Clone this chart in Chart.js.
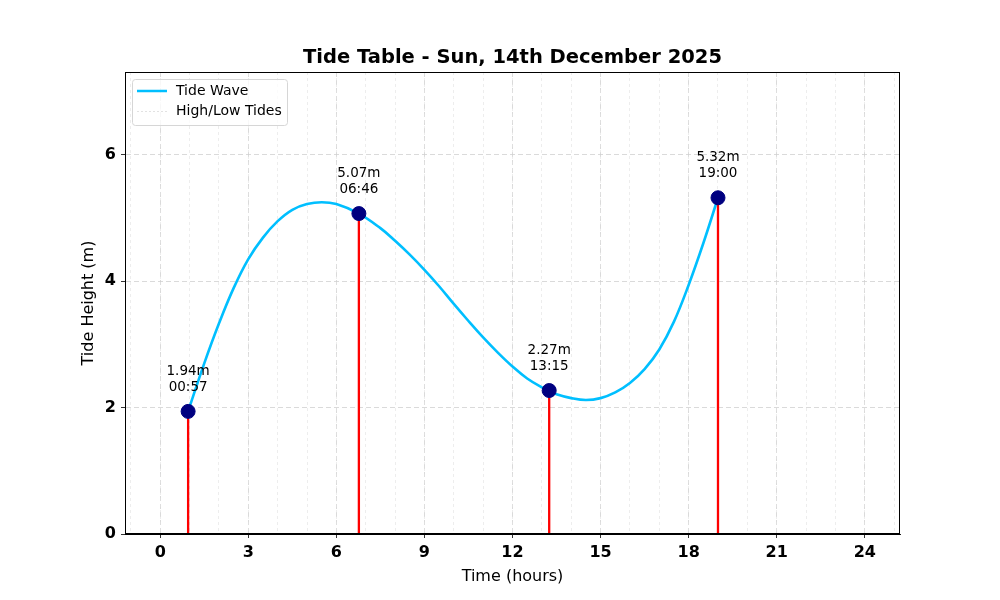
<!DOCTYPE html>
<html>
<head>
<meta charset="utf-8">
<script src="https://cdn.jsdelivr.net/npm/chart.js@4.4.1/dist/chart.umd.min.js"></script>
<style>
  html, body { margin: 0; padding: 0; background: #fff; }
  #wrap { width: 1000px; height: 600px; }
</style>
</head>
<body>
<div id="wrap"><canvas id="tide"></canvas></div>
<script>
// tide curve (hours, metres)
const waveHours = [0.95, 1.5, 2.0, 2.5, 3.0, 3.5, 4.0, 4.5, 5.0, 5.5, 6.0, 6.767, 7.5, 8.0, 8.5, 9.0, 9.5, 10.0, 10.5, 11.0, 11.5, 12.0, 12.5, 13.0, 13.25, 13.5, 14.0, 14.5, 15.0, 15.5, 16.0, 16.5, 17.0, 17.5, 18.0, 18.5, 19.0];
const waveHeights = [1.94, 2.70, 3.33, 3.89, 4.35, 4.69, 4.95, 5.13, 5.22, 5.25, 5.22, 5.07, 4.84, 4.64, 4.42, 4.18, 3.92, 3.64, 3.37, 3.11, 2.87, 2.65, 2.46, 2.32, 2.27, 2.21, 2.15, 2.12, 2.15, 2.24, 2.39, 2.61, 2.92, 3.36, 3.94, 4.60, 5.32];

// high / low tides
const tideHours = [0.95, 6.767, 13.25, 19.0];
const tideHeights = [1.94, 5.07, 2.27, 5.32];
const tideTimes = ['00:57', '06:46', '13:15', '19:00'];

const xTicks = [0, 3, 6, 9, 12, 15, 18, 21, 24];
const yTicks = [0, 2, 4, 6];
const minorHours = [-1, 0, 1, 2, 3, 4, 5, 6, 7, 8, 9, 10, 11, 12, 13, 14, 15, 16, 17, 18, 19, 20, 21, 22, 23, 24, 25];

const FONT = '"DejaVu Sans", sans-serif';

const wavePoints = waveHours.map((h, i) => ({ x: h, y: waveHeights[i] }));
const tidePoints = tideHours.map((h, i) => ({ x: h, y: tideHeights[i] }));
const stemPoints = [];
tideHours.forEach((h, i) => {
    stemPoints.push({ x: h, y: 0 }, { x: h, y: tideHeights[i] }, { x: h, y: null });
});

const decorPlugin = {
    id: 'decor',
    afterDraw(chart) {
        const ctx = chart.ctx;
        const area = chart.chartArea;
        const xs = chart.scales.x;
        const ys = chart.scales.y;
        ctx.save();

        // frame
        ctx.strokeStyle = '#000';
        ctx.lineWidth = 1;
        ctx.strokeRect(area.left + 0.5, area.top + 0.5, area.right - area.left - 1, area.bottom - area.top - 1);

        // title
        ctx.fillStyle = '#000';
        ctx.font = 'bold 19.5px ' + FONT;
        ctx.textAlign = 'center';
        ctx.textBaseline = 'middle';
        ctx.fillText('Tide Table - Sun, 14th December 2025', (area.left + area.right) / 2, 58);

        // tide labels
        ctx.font = '13.5px ' + FONT;
        tideHours.forEach((h, i) => {
            const px = xs.getPixelForValue(h);
            const py = ys.getPixelForValue(tideHeights[i]);
            ctx.fillText(tideHeights[i].toFixed(2) + 'm', px, py - 40);
            ctx.fillText(tideTimes[i], px, py - 24);
        });

        // legend
        const lx = 132, ly = 79, lw = 155, lh = 46;
        ctx.beginPath();
        ctx.roundRect(lx + 0.5, ly + 0.5, lw, lh, 3);
        ctx.fillStyle = 'rgba(255,255,255,0.8)';
        ctx.fill();
        ctx.strokeStyle = '#d6d6d6';
        ctx.lineWidth = 1;
        ctx.stroke();

        ctx.lineWidth = 2.5;
        ctx.strokeStyle = '#00bfff';
        ctx.beginPath();
        ctx.moveTo(137, 91);
        ctx.lineTo(167, 91);
        ctx.stroke();

        ctx.lineWidth = 0.6;
        ctx.strokeStyle = '#cfcfcf';
        ctx.setLineDash([2, 2]);
        ctx.beginPath();
        ctx.moveTo(137, 111.5);
        ctx.lineTo(167, 111.5);
        ctx.stroke();
        ctx.setLineDash([]);

        ctx.fillStyle = '#000';
        ctx.textAlign = 'left';
        ctx.font = '14px ' + FONT;
        ctx.fillText('Tide Wave', 176, 91);
        ctx.fillText('High/Low Tides', 176, 111);

        ctx.restore();
    }
};

new Chart(document.getElementById('tide'), {
    type: 'line',
    data: {
        datasets: [
            {
                label: 'High/Low Tides',
                type: 'scatter',
                data: tidePoints,
                backgroundColor: '#000080',
                borderColor: '#000080',
                pointRadius: 7,
                pointHoverRadius: 7,
                order: 0
            },
            {
                label: 'stems',
                data: stemPoints,
                borderColor: '#ff0000',
                borderWidth: 2.3,
                pointRadius: 0,
                spanGaps: false,
                tension: 0,
                order: 1
            },
            {
                label: 'Tide Wave',
                data: wavePoints,
                borderColor: '#00bfff',
                borderWidth: 2.6,
                pointRadius: 0,
                tension: 0.4,
                order: 2
            }
        ]
    },
    options: {
        responsive: true,
        maintainAspectRatio: false,
        animation: false,
        layout: { padding: { top: 72, right: 100, left: 75, bottom: 10 } },
        plugins: {
            legend: { display: false },
            tooltip: { enabled: false },
            title: { display: false }
        },
        scales: {
            x: {
                type: 'linear',
                min: -1.2,
                max: 25.2,
                afterBuildTicks: s => { s.ticks = xTicks.map(v => ({ value: v })); },
                afterFit: s => { s.height = 56; },
                grid: {
                    color: '#d0d0d0',
                    lineWidth: 0.8,
                    drawTicks: true,
                    tickLength: 4,
                    tickColor: '#000',
                    tickBorderDash: []
                },
                border: { display: true, color: '#000', width: 1, dash: [5, 3] },
                ticks: {
                    color: '#000',
                    padding: 5,
                    font: { family: FONT, size: 16, weight: 'bold' },
                    callback: v => v
                },
                title: {
                    display: true,
                    text: 'Time (hours)',
                    color: '#000',
                    font: { family: FONT, size: 16 },
                    padding: { top: 2, bottom: 4 }
                }
            },
            xMinor: {
                type: 'linear',
                position: 'bottom',
                min: -1.2,
                max: 25.2,
                afterBuildTicks: s => { s.ticks = minorHours.map(v => ({ value: v })); },
                afterFit: s => { s.height = 0; },
                grid: {
                    color: '#e2e2e2',
                    lineWidth: 0.6,
                    drawTicks: false
                },
                border: { display: false, dash: [3, 3] },
                ticks: { display: false }
            },
            y: {
                type: 'linear',
                min: 0,
                max: 7.31,
                afterBuildTicks: s => { s.ticks = yTicks.map(v => ({ value: v })); },
                afterFit: s => { s.width = 50; },
                grid: {
                    color: '#d0d0d0',
                    lineWidth: 0.8,
                    drawTicks: true,
                    tickLength: 4,
                    tickColor: '#000',
                    tickBorderDash: []
                },
                border: { display: true, color: '#000', width: 1, dash: [5, 3] },
                ticks: {
                    color: '#000',
                    padding: 5,
                    font: { family: FONT, size: 16, weight: 'bold' },
                    callback: v => v
                },
                title: {
                    display: true,
                    text: 'Tide Height (m)',
                    color: '#000',
                    font: { family: FONT, size: 16 },
                    padding: { top: 4, bottom: 4 }
                }
            }
        }
    },
    plugins: [decorPlugin]
});
</script>
</body>
</html>
